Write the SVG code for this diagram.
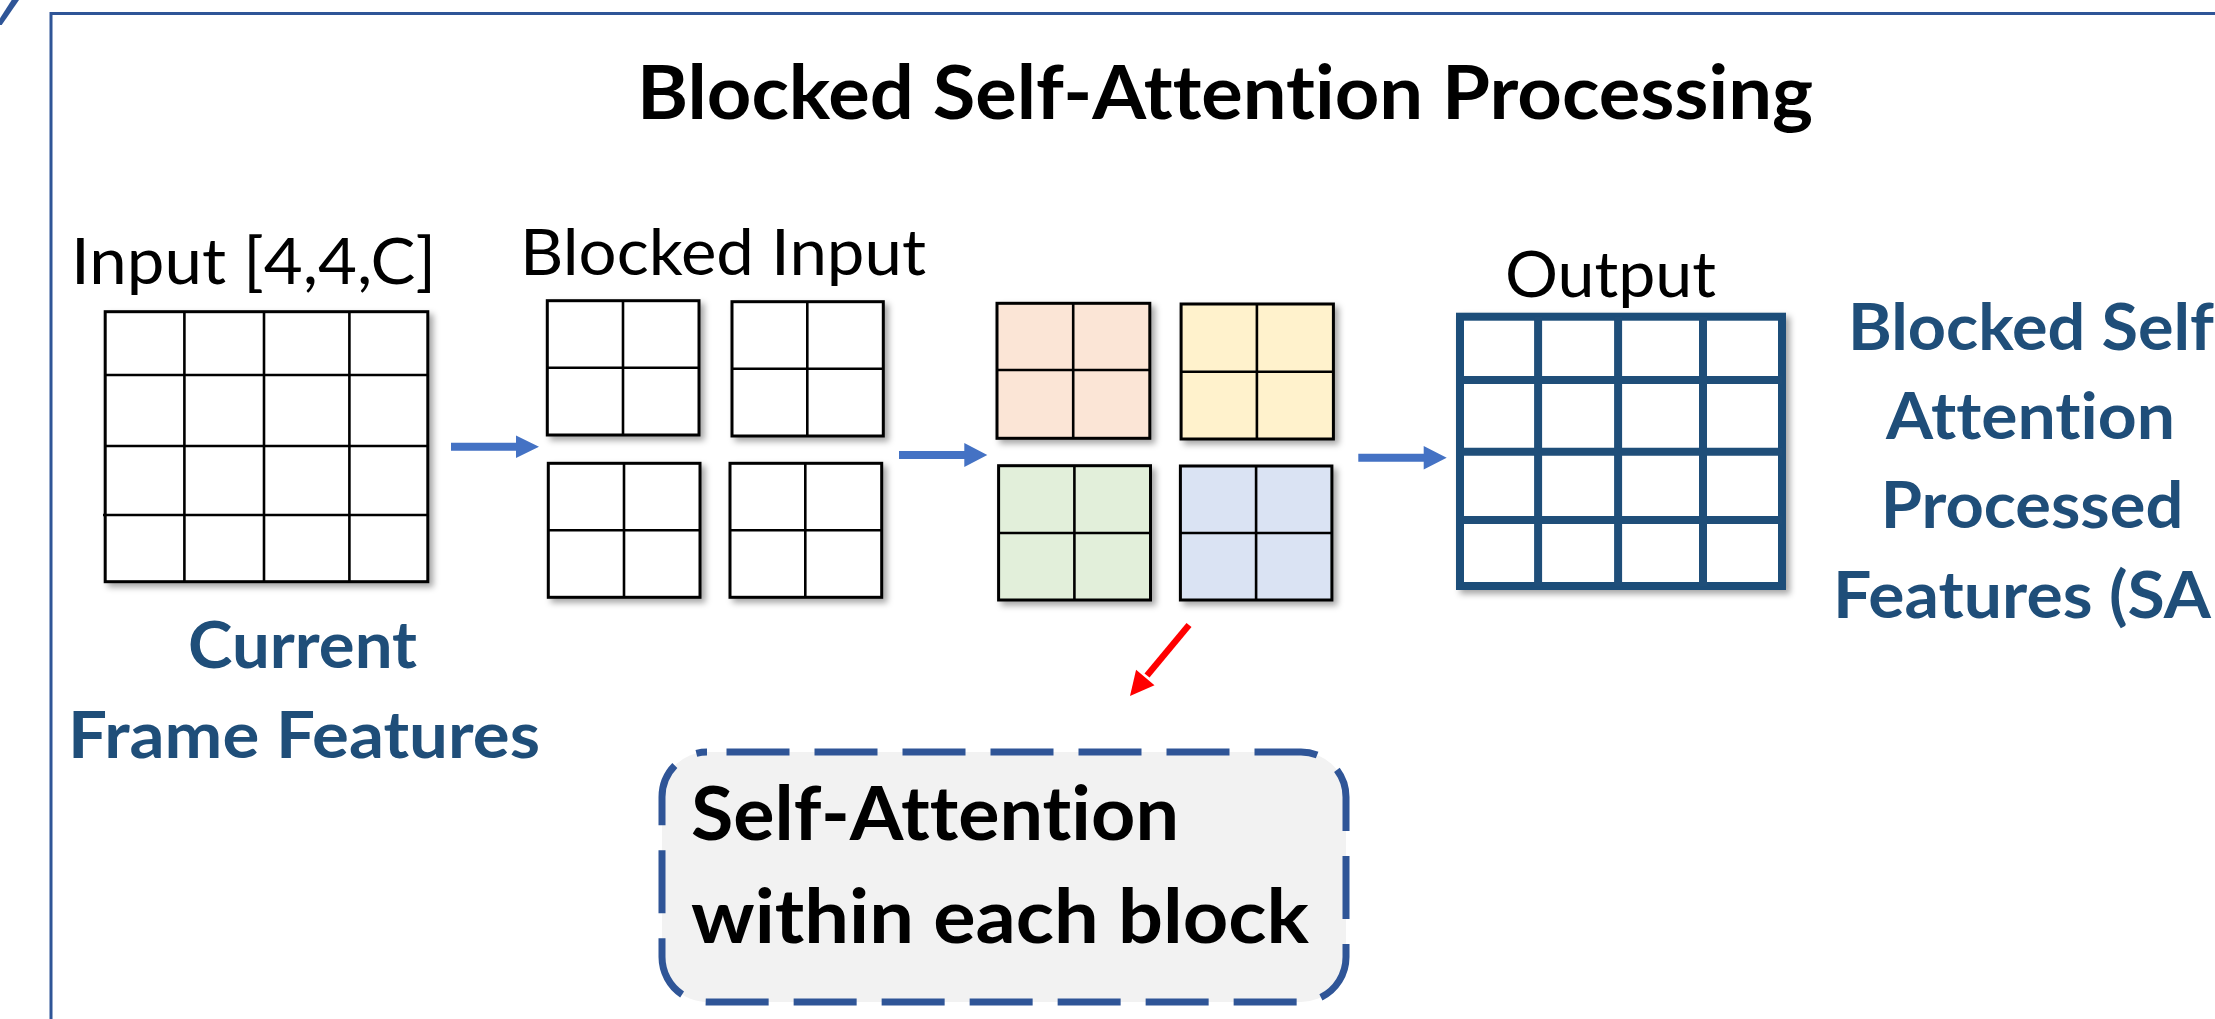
<svg xmlns="http://www.w3.org/2000/svg" width="2215" height="1019" viewBox="0 0 2215 1019">
  <defs>
    <filter id="shadow" x="-10%" y="-10%" width="125%" height="125%">
      <feDropShadow dx="4" dy="4" stdDeviation="3" flood-color="#000" flood-opacity="0.35"/>
    </filter>
    <style>
      text { font-variant-ligatures: none; font-feature-settings: "liga" 0, "dlig" 0; }
      .frame { fill: none; stroke: #2F5597; stroke-width: 3; }
      .lbl { font-family: Lato, "Open Sans", sans-serif; font-size: 64px; fill: #000; }
      .title { font-family: Lato, "Open Sans", sans-serif; font-size: 75px; font-weight: bold; fill: #000; }
      .blue { font-family: Lato, "Open Sans", sans-serif; font-size: 65px; font-weight: bold; fill: #1F4E79; }
      .note { font-family: Lato, "Open Sans", sans-serif; font-size: 75px; font-weight: bold; fill: #000; }
      .cell { stroke: #000; stroke-width: 3; }
      .line { fill: none; stroke: #000; stroke-width: 2.6; }
      .outgrid { fill: none; stroke: #1F4E79; stroke-width: 8; }
      .flow { fill: #4472C4; }
      .pick { fill: #FF0000; }
      .noteBox { fill: #F2F2F2; stroke: #2F5597; stroke-width: 7; stroke-dasharray: 63 25; }
    </style>
  </defs>

  <rect width="2215" height="1019" fill="#fff"/>

  <!-- panel border and corner stroke -->
  <g id="panel">
    <path class="frame" d="M51,1019 V13.5 H2215"/>
    <polygon points="11.7,0 19,0 1.7,25 0,25 0,18.3" fill="#2F5597"/>
  </g>

  <g id="title">
    <text class="title" x="637" y="119" textLength="1176" lengthAdjust="spacingAndGlyphs">Blocked Self-Attention Processing</text>
  </g>

  <!-- 4x4 input feature map -->
  <g id="input-grid">
    <rect class="cell" x="105.2" y="311.7" width="322.6" height="270" fill="#fff" filter="url(#shadow)"/>
    <path class="line" d="M184.4,311.7 V581.7 M264,311.7 V581.7 M349.4,311.7 V581.7 M105.2,375 H427.8 M105.2,446 H427.8 M103,515 H427.8"/>
  </g>
  <g id="input-label">
    <text class="lbl" x="71" y="284" textLength="365" lengthAdjust="spacingAndGlyphs">Input [4,4,C]</text>
  </g>
  <g id="current-label">
    <text class="blue" x="188" y="668" textLength="229" lengthAdjust="spacingAndGlyphs">Current</text>
    <text class="blue" x="68" y="758" textLength="472" lengthAdjust="spacingAndGlyphs">Frame Features</text>
  </g>

  <!-- four 2x2 blocks -->
  <g id="blocked-input">
    <rect class="cell" x="547.3" y="300.7" width="151.7" height="134.3" fill="#fff" filter="url(#shadow)"/>
    <path class="line" d="M623,300.7 V435 M547.3,367.7 H699"/>
    <rect class="cell" x="732" y="301.7" width="151.3" height="134.3" fill="#fff" filter="url(#shadow)"/>
    <path class="line" d="M807.3,301.7 V436 M732,368.7 H883.3"/>
    <rect class="cell" x="548.3" y="463.3" width="151.7" height="134" fill="#fff" filter="url(#shadow)"/>
    <path class="line" d="M624,463.3 V597.3 M548.3,530.3 H700"/>
    <rect class="cell" x="730" y="463.3" width="151.7" height="134" fill="#fff" filter="url(#shadow)"/>
    <path class="line" d="M805.3,463.3 V597.3 M730,530.3 H881.7"/>
  </g>
  <g id="blocked-label">
    <text class="lbl" x="520" y="275" textLength="406" lengthAdjust="spacingAndGlyphs">Blocked Input</text>
  </g>

  <!-- blocks after attention, one colour per block -->
  <g id="attended-blocks">
    <rect class="cell" x="997" y="303.3" width="152.8" height="135" fill="#FBE5D6" filter="url(#shadow)"/>
    <path class="line" d="M1073.2,303.3 V438.3 M997,370 H1149.8"/>
    <rect class="cell" x="1181.1" y="304" width="152.3" height="135" fill="#FFF2CC" filter="url(#shadow)"/>
    <path class="line" d="M1256.9,304 V439 M1181.1,371.7 H1333.4"/>
    <rect class="cell" x="998.6" y="465.7" width="151.9" height="134.3" fill="#E2EFDA" filter="url(#shadow)"/>
    <path class="line" d="M1074.4,465.7 V600 M998.6,533 H1150.5"/>
    <rect class="cell" x="1180.4" y="466" width="151.5" height="134" fill="#DAE3F3" filter="url(#shadow)"/>
    <path class="line" d="M1256.1,466 V600 M1180.4,533 H1331.9"/>
  </g>

  <!-- reassembled 4x4 output -->
  <g id="output-grid">
    <rect x="1460" y="316.7" width="322" height="269.3" fill="#fff" stroke="#1F4E79" stroke-width="8" filter="url(#shadow)"/>
    <path class="outgrid" d="M1538.1,316.7 V586 M1618.1,316.7 V586 M1703,316.7 V586 M1460,380 H1782 M1460,451.7 H1782 M1460,520 H1782"/>
  </g>
  <g id="output-label">
    <text class="lbl" x="1505" y="296.7" textLength="211" lengthAdjust="spacingAndGlyphs">Output</text>
  </g>
  <g id="result-label">
    <text class="blue" x="1848" y="350" textLength="366" lengthAdjust="spacingAndGlyphs">Blocked Self</text>
    <text class="blue" x="1886" y="439.3" textLength="289" lengthAdjust="spacingAndGlyphs">Attention</text>
    <text class="blue" x="1880.7" y="528.3" textLength="302.6" lengthAdjust="spacingAndGlyphs">Processed</text>
    <text class="blue" x="1833" y="618.3" textLength="378" lengthAdjust="spacingAndGlyphs">Features (SA</text>
  </g>

  <!-- callout box -->
  <g id="self-attention-note">
    <rect class="noteBox" x="662" y="752" width="684" height="250" rx="45" ry="45" stroke-dashoffset="68.5"/>
    <text class="note" x="691" y="840" textLength="488" lengthAdjust="spacingAndGlyphs">Self-Attention</text>
    <text class="note" x="691" y="942.7" textLength="618" lengthAdjust="spacingAndGlyphs">within each block</text>
  </g>

  <g id="connectors">
    <polygon class="flow" points="451,442.7 516,442.7 516,435.4 539,446.7 516,458 516,450.7 451,450.7"/>
    <polygon class="flow" points="899,451 964.3,451 964.3,443 987.3,455 964.3,467 964.3,459 899,459"/>
    <polygon class="flow" points="1358.3,453.7 1423.7,453.7 1423.7,446 1446.7,457.7 1423.7,469.4 1423.7,461.7 1358.3,461.7"/>
    <line x1="1189" y1="625" x2="1147" y2="675.5" stroke="#FF0000" stroke-width="6.5"/>
    <polygon class="pick" points="1130,696 1136.1,669.8 1154.5,685.2"/>
  </g>
</svg>
